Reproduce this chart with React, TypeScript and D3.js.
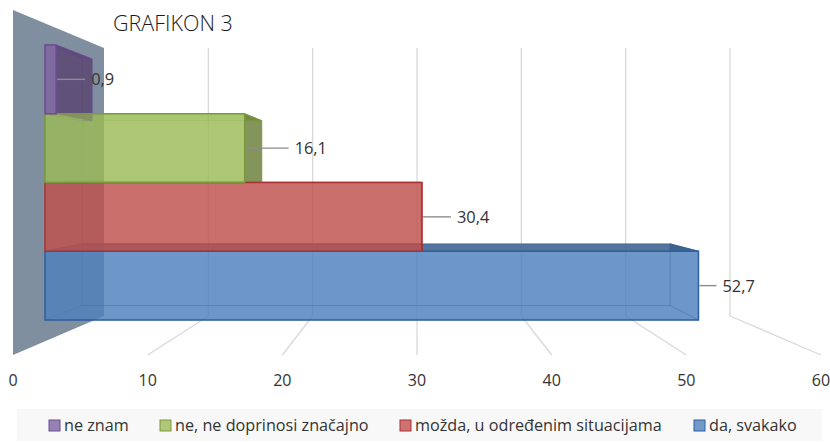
import React from "react";
import * as d3 from "d3";

const categories = ["ne znam", "ne, ne doprinosi značajno", "možda, u određenim situacijama", "da, svakako"];
const values = [0.9, 16.1, 30.4, 52.7];
const valueLabels = ["0,9", "16,1", "30,4", "52,7"];
const fills = ["#8064a2", "#9bbb59", "#c0504d", "#4f81bd"];
const strokes = ["#6a4c93", "#7a9a3a", "#a83232", "#2f5f9e"];
const ticks = [0, 10, 20, 30, 40, 50, 60];
const labelLeader = [28, 43, 28, 17];
const title = "GRAFIKON 3";
const legendX = [49, 160, 400, 694];

const font = "'Open Sans', sans-serif";

export default function App() {
  const floorFront = d3.scaleLinear().domain([0, 60]).range([13, 821]);
  const floorBack = d3.scaleLinear().domain([0, 60]).range([104, 730]);
  const barFront = d3.scaleLinear().domain([0, 60]).range([45, 789]);
  const barBack = d3.scaleLinear().domain([0, 60]).range([82, 751.6]);
  const slots = d3.range(categories.length + 1);
  const yFront = d3.scaleLinear().domain([0, 4]).range([45, 320]);
  const yBack = d3.scaleLinear().domain([0, 4]).range([59, 305.5]);
  const pts = (p: number[][]) => p.map((q) => q.join(",")).join(" ");
  const wallTop = [48, 10];
  const wallBottom = [316, 355];
  const order = d3.range(values.length).reverse();

  return (
    <svg width={830} height={442} style={{ position: "absolute", left: 0, top: 0, background: "#fff" }}>
      <defs>
        {values.map((v, i) => {
          const f0 = barFront(0), f1 = barFront(v);
          const ft = yFront(slots[i]), fb = yFront(slots[i + 1]);
          return (
            <clipPath key={i} id={`outside-${i}`}>
              <path clipRule="evenodd" d={`M0,0H830V442H0Z M${f0},${ft}H${f1}V${fb}H${f0}Z`} />
            </clipPath>
          );
        })}
      </defs>
      <polygon
        points={pts([
          [floorFront(0), wallTop[1]],
          [floorBack(0), wallTop[0]],
          [floorBack(0), wallBottom[0]],
          [floorFront(0), wallBottom[1]],
        ])}
        fill="#808f9f"
      />
      {ticks.slice(1).map((t) => (
        <g key={t} stroke="#d9d9d9" strokeWidth={1.3} fill="none">
          <line x1={floorBack(t)} x2={floorBack(t)} y1={wallTop[0]} y2={wallBottom[0]} />
          <line x1={floorBack(t)} x2={floorFront(t)} y1={wallBottom[0]} y2={wallBottom[1]} />
        </g>
      ))}
      {ticks.map((t) => (
        <text key={t} x={floorFront(t)} y={386} textAnchor="middle" fontFamily={font} fontSize={16} fill="#333">
          {t}
        </text>
      ))}
      <text x={113} y={31} fontFamily={font} fontWeight={300} fontSize={21.5} fill="#1a1a1a">
        {title}
      </text>
      {order.map((i) => {
        const v = values[i];
        const f0 = barFront(0), f1 = barFront(v), b0 = barBack(0), b1 = barBack(v);
        const ft = yFront(slots[i]), fb = yFront(slots[i + 1]);
        const bt = yBack(slots[i]), bb = yBack(slots[i + 1]);
        const stroke = strokes[i], fill = fills[i];
        const dark = d3.color(fill)!.darker(1).formatHex();
        const side = pts([[f1, ft], [b1, bt], [b1, bb], [f1, fb]]);
        const top = pts([[f0, ft], [f1, ft], [b1, bt], [b0, bt]]);
        const outline = pts([[b0, bt], [b1, bt], [b1, bb], [b0, bb]]);
        return (
          <g key={categories[i]}>
            {/* the shell of the box: together with the front face it gives one even tone */}
            <polygon
              points={pts([[f0, ft], [f1, ft], [f1, fb], [f0, fb]])}
              fill={fill}
              fillOpacity={0.55}
            />
            <polygon points={outline} fill="none" stroke={stroke} strokeOpacity={0.35} />
            <polygon points={pts([[f0, fb], [b0, bb], [b1, bb], [f1, fb]])} fill="none" stroke={stroke} strokeOpacity={0.3} />
            <polygon points={side} fill="none" stroke={stroke} strokeOpacity={0.35} />
            <g clipPath={`url(#outside-${i})`}>
              <polygon points={side} fill={dark} fillOpacity={0.85} stroke={stroke} strokeOpacity={0.6} />
              <polygon points={top} fill={dark} fillOpacity={0.85} stroke={stroke} strokeOpacity={0.6} />
            </g>
            <polygon points={top} fill={fill} fillOpacity={0.12} />
          </g>
        );
      })}
      {order.map((i) => {
        const v = values[i];
        const f0 = barFront(0), f1 = barFront(v);
        const ft = yFront(slots[i]), fb = yFront(slots[i + 1]);
        return (
          <rect key={i} x={f0} y={ft} width={f1 - f0} height={fb - ft} fill={fills[i]} fillOpacity={0.6} stroke={strokes[i]} strokeWidth={1.5} />
        );
      })}
      {values.map((v, i) => {
        const f1 = barFront(v);
        const midY = (yFront(slots[i]) + yFront(slots[i + 1])) / 2;
        return (
          <g key={valueLabels[i]}>
            <line x1={f1 + 1} x2={f1 + 1 + labelLeader[i]} y1={midY} y2={midY} stroke="#8c8c8c" strokeWidth={1.4} />
            <text x={f1 + labelLeader[i] + 7} y={midY + 6} fontFamily={font} fontSize={16.4} fill="#333">
              {valueLabels[i]}
            </text>
          </g>
        );
      })}
      <rect x={17} y={409} width={805} height={32} fill="#f8f8f8" />
      {categories.map((c, i) => (
        <g key={c}>
          <rect x={legendX[i]} y={420} width={11} height={11} fill={fills[i]} stroke={strokes[i]} strokeWidth={1} fillOpacity={0.8} />
          <text x={legendX[i] + 15} y={431} fontFamily={font} fontSize={16.2} fill="#333">
            {c}
          </text>
        </g>
      ))}
    </svg>
  );
}
